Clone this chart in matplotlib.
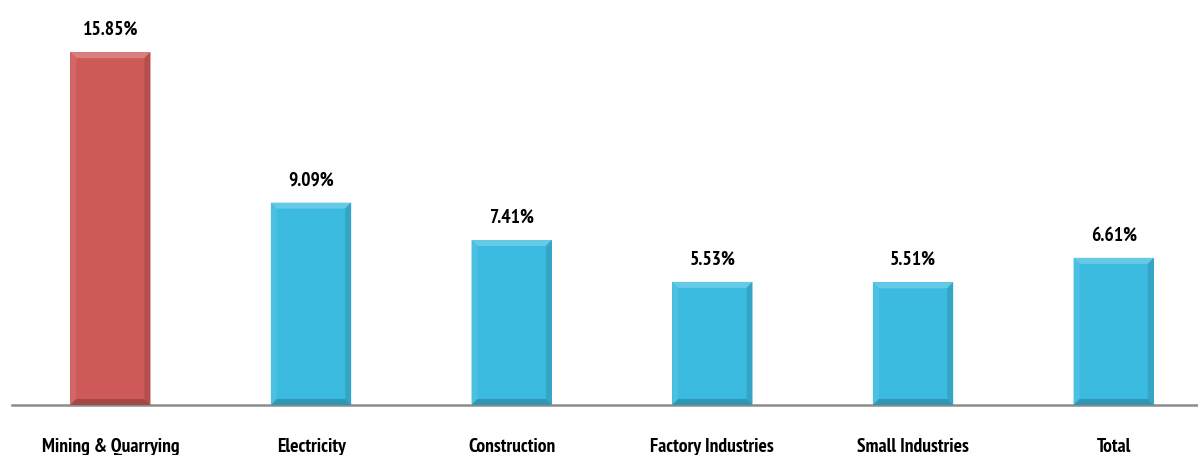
import numpy as np
import matplotlib.pyplot as plt
from matplotlib.patches import Polygon
from matplotlib.colors import to_rgb

categories = ["Mining & Quarrying", "Electricity", "Construction",
              "Factory Industries", "Small Industries", "Total"]
growth = [15.85, 9.09, 7.41, 5.53, 5.51, 6.61]
labels = ["15.85%", "9.09%", "7.41%", "5.53%", "5.51%", "6.61%"]
colors = ["#CD5A59", "#3BBBE0", "#3BBBE0", "#3BBBE0", "#3BBBE0", "#3BBBE0"]

plt.rcParams['font.family'] = ['PT Sans Narrow', 'DejaVu Sans']


def shade(c, f):
    r = np.array(to_rgb(c))
    if f > 0:
        return tuple(r + (1 - r) * f)
    return tuple(r * (1 + f))


fig = plt.figure(figsize=(11.98, 4.55), dpi=100)
ax = fig.add_axes([12 / 1198, 50 / 455, 1 - 12 / 1198, 405 / 455])

x = np.arange(len(categories))
w = 0.40
bars = ax.bar(x, growth, width=w, color=colors, zorder=2)

# bevelled edges on every bar
bx, by = 0.03, 0.27
for b, c in zip(bars, colors):
    x0, y0 = b.get_x(), b.get_y()
    x1, y1 = x0 + b.get_width(), y0 + b.get_height()
    faces = [
        ([(x0, y1), (x1, y1), (x1 - bx, y1 - by), (x0 + bx, y1 - by)], 0.22),
        ([(x0, y0), (x0, y1), (x0 + bx, y1 - by), (x0 + bx, y0 + by)], 0.08),
        ([(x1, y0), (x1, y1), (x1 - bx, y1 - by), (x1 - bx, y0 + by)], -0.12),
        ([(x0, y0), (x1, y0), (x1 - bx, y0 + by), (x0 + bx, y0 + by)], -0.2),
    ]
    for pts, f in faces:
        ax.add_patch(Polygon(pts, closed=True, color=shade(c, f), lw=0, zorder=3))

for xi, v, t in zip(x, growth, labels):
    ax.annotate(t, (xi, v), xytext=(0, 12.5), textcoords="offset points",
                ha="center", va="baseline", fontsize=14, fontweight="bold")

ax.set_xlim(-0.49, 5.42)
ax.set_ylim(0, 18.19)
ax.set_yticks([])
ax.set_xticks(x)
ax.set_xticklabels(categories, fontsize=14, fontweight="bold", va="baseline")
ax.tick_params(axis="x", length=0, pad=34)
for s in ["top", "right", "left"]:
    ax.spines[s].set_visible(False)
ax.spines["bottom"].set_color("#8C8C8C")
ax.spines["bottom"].set_linewidth(1.8)

plt.savefig("out.png", dpi=100)
